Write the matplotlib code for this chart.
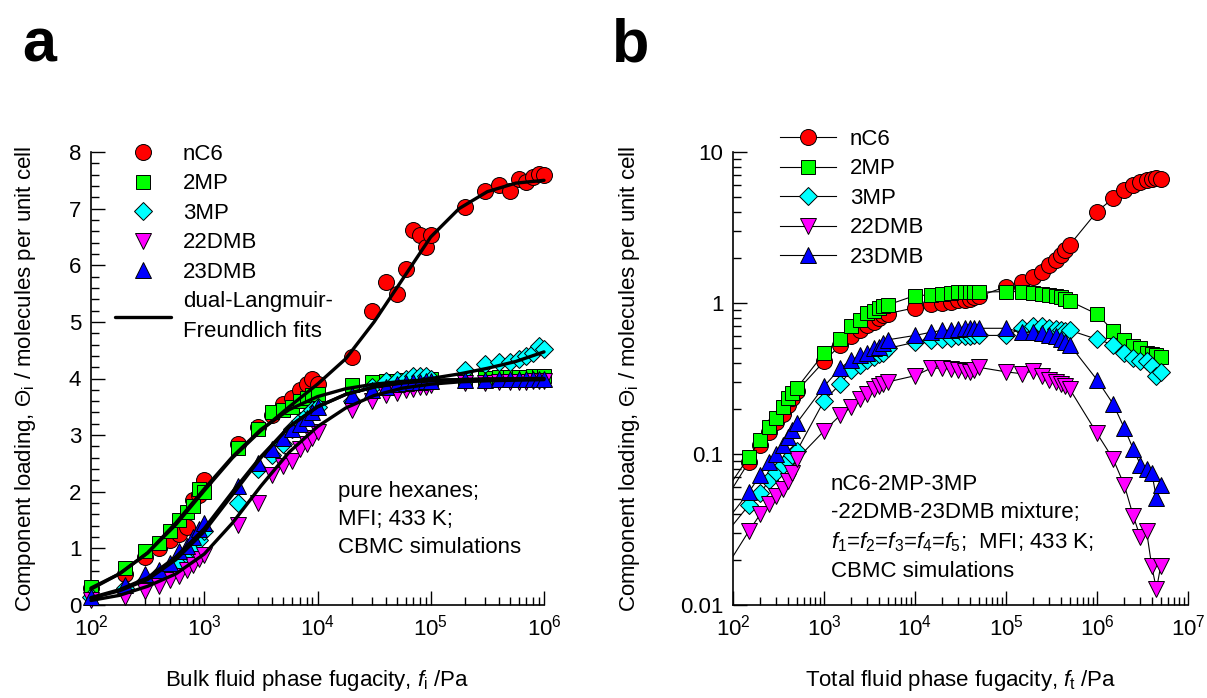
import matplotlib
matplotlib.use('Agg')
import matplotlib.pyplot as plt
from matplotlib.ticker import MultipleLocator, LogLocator, NullFormatter, FuncFormatter

plt.rcParams['font.family'] = ['Liberation Sans', 'DejaVu Sans']
plt.rcParams['mathtext.fontset'] = 'custom'
plt.rcParams['mathtext.rm'] = 'Liberation Sans'
plt.rcParams['mathtext.it'] = 'Liberation Sans:italic'
plt.rcParams['mathtext.bf'] = 'Liberation Sans:bold'

# ---------------- data: panel a (pure components) ----------------
species = ['nC6', '2MP', '3MP', '22DMB', '23DMB']

f_pure = [100, 200, 300, 400, 500, 600, 700, 800, 900,
          1e3, 2e3, 3e3, 4e3, 5e3, 6e3, 7e3, 8e3, 9e3,
          1e4, 2e4, 3e4, 4e4, 5e4, 6e4, 7e4, 8e4, 9e4,
          1e5, 2e5, 3e5, 4e5, 5e5, 6e5, 7e5, 8e5, 9e5, 1e6]

pure_nC6 = [0.30, 0.55, 0.85, 1.00, 1.15, 1.25, 1.38, 1.85, 1.94,
            2.20, 2.85, 3.15, 3.35, 3.55, 3.65, 3.79, 3.90, 4.00,
            3.91, 4.38, 5.20, 5.70, 5.50, 5.94, 6.62, 6.53, 6.32,
            6.53, 7.03, 7.32, 7.41, 7.32, 7.53, 7.47, 7.55, 7.62, 7.60]
pure_2MP = [0.32, 0.65, 0.95, 1.10, 1.30, 1.50, 1.65, 1.75, 2.05,
            2.00, 2.78, 3.10, 3.40, 3.45, 3.50, 3.60, 3.65, 3.70,
            3.72, 3.88, 3.93, 3.95, 3.96, 3.97, 3.98, 3.98, 3.99,
            3.99, 4.00, 4.01, 4.02, 4.02, 4.03, 4.03, 4.04, 4.04, 4.05]
pure_3MP = [0.15, 0.30, 0.42, 0.55, 0.65, 0.78, 0.88, 1.00, 1.15,
            1.30, 1.80, 2.40, 2.65, 2.85, 3.10, 3.25, 3.35, 3.45,
            3.50, 3.60, 3.85, 3.95, 3.98, 4.00, 4.05, 4.05, 4.05,
            4.00, 4.15, 4.25, 4.30, 4.30, 4.35, 4.40, 4.45, 4.58, 4.52]
pure_22DMB = [0.08, 0.15, 0.25, 0.33, 0.45, 0.52, 0.62, 0.70, 0.82,
              0.88, 1.42, 1.80, 2.30, 2.45, 2.55, 2.75, 2.85, 2.95,
              3.05, 3.45, 3.60, 3.70, 3.75, 3.80, 3.82, 3.85, 3.85,
              3.88, 3.92, 3.92, 3.93, 3.93, 3.94, 3.94, 3.95, 3.95, 3.95]
pure_23DMB = [0.15, 0.35, 0.55, 0.62, 0.75, 0.95, 1.05, 1.20, 1.35,
              1.45, 2.10, 2.50, 2.75, 2.95, 3.10, 3.20, 3.30, 3.40,
              3.50, 3.70, 3.80, 3.85, 3.90, 3.92, 3.93, 3.94, 3.95,
              3.95, 3.98, 3.98, 3.99, 3.99, 4.00, 4.00, 4.00, 4.00, 4.00]

# dual-Langmuir-Freundlich fit curves
f_fit = [100, 178, 316, 562, 1000, 1778, 3162, 5623, 10000, 17783,
         31623, 56234, 100000, 177828, 316228, 562341, 1000000]
fit_nC6 = [0.28, 0.55, 0.92, 1.42, 2.02, 2.60, 3.08, 3.50, 3.90, 4.35,
           5.00, 5.75, 6.50, 7.00, 7.30, 7.45, 7.50]
fit_2MP = [0.30, 0.55, 0.92, 1.45, 2.05, 2.62, 3.10, 3.45, 3.68, 3.82,
           3.90, 3.95, 3.97, 3.98, 3.99, 3.995, 4.00]
fit_3MP = [0.12, 0.25, 0.45, 0.80, 1.30, 1.95, 2.60, 3.15, 3.50, 3.72,
           3.85, 3.93, 4.00, 4.08, 4.18, 4.30, 4.47]
fit_22DMB = [0.08, 0.17, 0.33, 0.55, 0.90, 1.45, 2.10, 2.70, 3.15, 3.48,
             3.70, 3.83, 3.90, 3.94, 3.96, 3.97, 3.98]
fit_23DMB = [0.13, 0.27, 0.48, 0.85, 1.35, 2.00, 2.62, 3.15, 3.50, 3.72,
             3.85, 3.92, 3.96, 3.98, 3.99, 3.995, 4.00]

# ---------------- data: panel b (5-component mixture) ----------------
f_total = [100, 150, 200, 250, 300, 350, 400, 450, 500,
           1e3, 1.5e3, 2e3, 2.5e3, 3e3, 3.5e3, 4e3, 4.5e3, 5e3,
           1e4, 1.5e4, 2e4, 2.5e4, 3e4, 3.5e4, 4e4, 4.5e4, 5e4,
           1e5, 1.5e5, 2e5, 2.5e5, 3e5, 3.5e5, 4e5, 4.5e5, 5e5,
           1e6, 1.5e6, 2e6, 2.5e6, 3e6, 3.5e6, 4e6, 4.5e6, 5e6]
mix_nC6 = [0.060, 0.089, 0.114, 0.140, 0.163, 0.185, 0.210, 0.235, 0.260,
           0.41, 0.525, 0.60, 0.66, 0.71, 0.75, 0.79, 0.83, 0.85,
           0.93, 0.98, 1.00, 1.02, 1.04, 1.05, 1.07, 1.09, 1.11,
           1.28, 1.38, 1.49, 1.61, 1.79, 1.93, 2.08, 2.24, 2.42,
           4.03, 4.93, 5.60, 6.03, 6.30, 6.50, 6.65, 6.75, 6.60]
mix_2MP = [0.067, 0.096, 0.124, 0.152, 0.173, 0.206, 0.235, 0.254, 0.272,
           0.465, 0.58, 0.70, 0.77, 0.86, 0.89, 0.93, 0.95, 0.97,
           1.12, 1.13, 1.15, 1.17, 1.18, 1.18, 1.19, 1.19, 1.18,
           1.19, 1.19, 1.17, 1.15, 1.13, 1.12, 1.10, 1.07, 1.03,
           0.845, 0.656, 0.569, 0.52, 0.50, 0.47, 0.46, 0.45, 0.44]
mix_3MP = [0.034, 0.046, 0.055, 0.067, 0.076, 0.085, 0.091, 0.098, 0.104,
           0.225, 0.29, 0.36, 0.39, 0.42, 0.44, 0.46, 0.47, 0.50,
           0.55, 0.57, 0.58, 0.59, 0.60, 0.60, 0.60, 0.61, 0.61,
           0.61, 0.68, 0.70, 0.70, 0.68, 0.67, 0.66, 0.65, 0.66,
           0.575, 0.53, 0.465, 0.43, 0.41, 0.41, 0.38, 0.33, 0.35]
mix_22DMB = [0.021, 0.031, 0.040, 0.047, 0.053, 0.059, 0.066, 0.075, 0.092,
             0.142, 0.18, 0.205, 0.23, 0.25, 0.27, 0.28, 0.29, 0.30,
             0.33, 0.37, 0.37, 0.365, 0.36, 0.355, 0.35, 0.36, 0.375,
             0.35, 0.34, 0.355, 0.33, 0.31, 0.30, 0.29, 0.28, 0.27,
             0.137, 0.093, 0.062, 0.039, 0.028, 0.031, 0.018, 0.0127, 0.018]
mix_23DMB = [0.041, 0.056, 0.073, 0.089, 0.100, 0.114, 0.130, 0.144, 0.160,
             0.28, 0.37, 0.42, 0.45, 0.47, 0.50, 0.51, 0.54, 0.57,
             0.61, 0.64, 0.66, 0.66, 0.67, 0.68, 0.68, 0.68, 0.68,
             0.68, 0.64, 0.64, 0.63, 0.61, 0.60, 0.58, 0.55, 0.53,
             0.31, 0.215, 0.148, 0.108, 0.085, 0.080, 0.075, 0.051, 0.062]

pure = {'nC6': pure_nC6, '2MP': pure_2MP, '3MP': pure_3MP, '22DMB': pure_22DMB, '23DMB': pure_23DMB}
fits = {'nC6': fit_nC6, '2MP': fit_2MP, '3MP': fit_3MP, '22DMB': fit_22DMB, '23DMB': fit_23DMB}
mix = {'nC6': mix_nC6, '2MP': mix_2MP, '3MP': mix_3MP, '22DMB': mix_22DMB, '23DMB': mix_23DMB}

style = {
    'nC6':   dict(marker='o', mfc='#ff0000', ms=11.5),
    '2MP':   dict(marker='s', mfc='#00ff00', ms=9.5),
    '3MP':   dict(marker='D', mfc='#00ffff', ms=8.8),
    '22DMB': dict(marker='v', mfc='#ff00ff', ms=11),
    '23DMB': dict(marker='^', mfc='#0000ff', ms=11),
}

FS = 16
W, H = 1207, 698
fig = plt.figure(figsize=(W / 100, H / 100), dpi=100)
axL = fig.add_axes([91 / W, 1 - 605 / H, 453 / W, 453 / H])
axR = fig.add_axes([733 / W, 1 - 605 / H, 455 / W, 453 / H])

for ax in (axL, axR):
    ax.spines['top'].set_visible(False)
    ax.spines['right'].set_visible(False)
    for s in ('left', 'bottom'):
        ax.spines[s].set_linewidth(1.2)
    ax.tick_params(which='both', direction='in', top=False, right=False,
                   labelsize=FS, width=1.0)
    ax.tick_params(which='major', length=10, pad=7)
    ax.tick_params(which='minor', length=6)

# ---------------- panel a ----------------
handles = []
for name in species:
    h, = axL.plot(f_pure, pure[name], ls='none', mec='k', mew=0.7,
                  clip_on=False, zorder=3, label=name, **style[name])
    handles.append(h)
for name in species:
    hf, = axL.plot(f_fit, fits[name], color='k', lw=2.4, zorder=4,
                   solid_capstyle='round', clip_on=False)
hf.set_label('dual-Langmuir-\nFreundlich fits')
handles.append(hf)

axL.set_xscale('log')
axL.set_xlim(1e2, 1e6)
axL.set_ylim(0, 8)
axL.yaxis.set_major_locator(MultipleLocator(1))
axL.yaxis.set_minor_locator(MultipleLocator(0.2))
axL.xaxis.set_major_locator(LogLocator(base=10, numticks=10))
axL.xaxis.set_minor_locator(LogLocator(base=10, subs=range(2, 10), numticks=50))
axL.xaxis.set_minor_formatter(NullFormatter())

axL.set_xlabel(r'Bulk fluid phase fugacity, $f_\mathrm{i}$ /Pa', fontsize=FS)
axL.set_ylabel(r'Component loading, $\Theta_\mathrm{i}$ / molecules per unit cell', fontsize=FS)
axL.xaxis.set_label_coords(0.5, (605 - 668) / 453)
axL.yaxis.set_label_coords((38 - 91) / 453, 0.5)

legL = axL.legend(handles=handles, loc='upper left', frameon=False, fontsize=FS,
                  bbox_to_anchor=(115 / W, 1 - 144 / H), bbox_transform=fig.transFigure,
                  borderpad=0, borderaxespad=0, handlelength=2.5, handletextpad=0.55,
                  labelspacing=0.38, numpoints=1)
legL.get_texts()[-1].set_linespacing(1.55)

axL.text((338 - 91) / 453, (605 - 481) / 453,
         'pure hexanes;\nMFI; 433 K;\nCBMC simulations',
         transform=axL.transAxes, fontsize=FS, va='top', ha='left', linespacing=1.45)

# ---------------- panel b ----------------
handlesR = []
for name in species:
    h, = axR.plot(f_total, mix[name], color='k', lw=0.8, mec='k', mew=0.7,
                  markevery=slice(1, None), zorder=3, label=name, **style[name])
    handlesR.append(h)

axR.set_xscale('log')
axR.set_yscale('log')
axR.set_xlim(1e2, 1e7)
axR.set_ylim(0.01, 10)
axR.xaxis.set_major_locator(LogLocator(base=10, numticks=10))
axR.xaxis.set_minor_locator(LogLocator(base=10, subs=range(2, 10), numticks=50))
axR.xaxis.set_minor_formatter(NullFormatter())
axR.yaxis.set_major_locator(LogLocator(base=10, numticks=10))
axR.yaxis.set_minor_locator(LogLocator(base=10, subs=range(2, 10), numticks=50))
axR.yaxis.set_minor_formatter(NullFormatter())
axR.yaxis.set_major_formatter(FuncFormatter(lambda v, p: f'{v:g}'))

axR.set_xlabel(r'Total fluid phase fugacity, $f_\mathrm{t}$ /Pa', fontsize=FS)
axR.set_ylabel(r'Component loading, $\Theta_\mathrm{i}$ / molecules per unit cell', fontsize=FS)
axR.xaxis.set_label_coords(0.5, (605 - 668) / 453)
axR.yaxis.set_label_coords((642 - 733) / 455, 0.5)

axR.legend(handles=handlesR, loc='upper left', frameon=False, fontsize=FS,
           bbox_to_anchor=(780 / W, 1 - 129 / H), bbox_transform=fig.transFigure,
           borderpad=0, borderaxespad=0, handlelength=2.5, handletextpad=0.65,
           labelspacing=0.38, numpoints=1)

axR.text((831 - 733) / 455, (605 - 474) / 453,
         'nC6-2MP-3MP\n-22DMB-23DMB mixture;\n'
         r'$f_1$=$f_2$=$f_3$=$f_4$=$f_5$;  MFI; 433 K;' '\nCBMC simulations',
         transform=axR.transAxes, fontsize=FS, va='top', ha='left', linespacing=1.42)

fig.text(22 / W, 1 - 62 / H, 'a', fontsize=44, fontweight='bold', va='baseline', ha='left')
fig.text(612 / W, 1 - 62 / H, 'b', fontsize=44, fontweight='bold', va='baseline', ha='left')

fig.savefig('out.png', dpi=100)
